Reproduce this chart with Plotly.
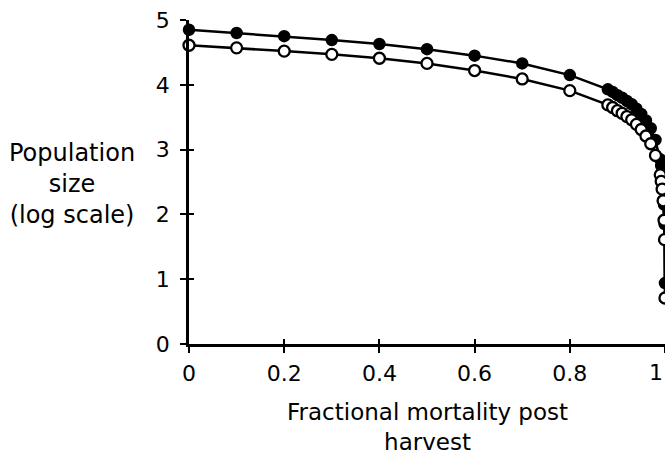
import plotly.graph_objects as go

# Data
mortality = [0, 0.1, 0.2, 0.3, 0.4, 0.5, 0.6, 0.7, 0.8,
             0.88, 0.89, 0.90, 0.91, 0.92, 0.93, 0.94, 0.95, 0.96, 0.97, 0.98, 0.99,
             0.992, 0.994, 0.996, 0.998, 0.999, 0.9999]
pop_filled = [4.85, 4.80, 4.75, 4.69, 4.63, 4.55, 4.45, 4.33, 4.15,
              3.93, 3.89, 3.84, 3.80, 3.75, 3.70, 3.63, 3.55, 3.45, 3.33, 3.15, 2.85,
              2.75, 2.63, 2.45, 2.15, 1.85, 0.94]
pop_open = [4.61, 4.57, 4.52, 4.47, 4.41, 4.33, 4.22, 4.09, 3.91,
            3.69, 3.65, 3.60, 3.56, 3.51, 3.46, 3.39, 3.31, 3.21, 3.09, 2.91, 2.61,
            2.51, 2.39, 2.21, 1.91, 1.61, 0.71]
x_ticks = [0, 0.2, 0.4, 0.6, 0.8, 1]
x_tick_labels = ["0", "0.2", "0.4", "0.6", "0.8", "1"]
y_ticks = [0, 1, 2, 3, 4, 5]
y_tick_labels = ["0", "1", "2", "3", "4", "5"]

FONT = "DejaVu Sans"
TICK_SIZE = 22

fig = go.Figure()
fig.add_trace(go.Scatter(
    x=mortality, y=pop_filled, mode="lines+markers",
    line=dict(color="black", width=2.5),
    marker=dict(symbol="circle", size=11, color="black",
                line=dict(color="black", width=1.5)),
    cliponaxis=False, showlegend=False))
fig.add_trace(go.Scatter(
    x=mortality, y=pop_open, mode="lines+markers",
    line=dict(color="black", width=2.5),
    marker=dict(symbol="circle", size=11, color="white",
                line=dict(color="black", width=2.3)),
    cliponaxis=False, showlegend=False))

axis_common = dict(showgrid=False, zeroline=False, showline=True,
                   linecolor="black", linewidth=2.5,
                   ticks="outside", ticklen=6, tickwidth=2, tickcolor="black",
                   tickfont=dict(family=FONT, size=TICK_SIZE, color="black"))

# the last x tick label sits at the window edge; draw it as text kept inside the page
x_label_shown = x_tick_labels[:-1] + [""]

fig.update_layout(
    width=665, height=455,
    margin=dict(l=189, r=0, t=20, b=111),
    paper_bgcolor="white", plot_bgcolor="white",
    xaxis=dict(range=[0, 1], tickvals=x_ticks, ticktext=x_label_shown,
               ticklabelstandoff=2, **axis_common),
    yaxis=dict(range=[0, 5], tickvals=y_ticks, ticktext=y_tick_labels,
               ticklabelstandoff=6, **axis_common),
    xaxis2=dict(range=[0, 1], overlaying="x", anchor="y", side="bottom",
                tickvals=x_ticks, showticklabels=False, showgrid=False,
                zeroline=False, showline=False, ticks="inside", ticklen=5,
                tickwidth=2, tickcolor="black"),
    yaxis2=dict(range=[0, 5], overlaying="y", anchor="x", side="left",
                tickvals=y_ticks, showticklabels=False, showgrid=False,
                zeroline=False, showline=False, ticks="inside", ticklen=5,
                tickwidth=2, tickcolor="black"),
    font=dict(family=FONT, color="black"),
)

fig.add_trace(go.Scatter(x=[None], y=[None], xaxis="x2", yaxis="y2",
                         showlegend=False, hoverinfo="skip"))

fig.add_annotation(text=x_tick_labels[-1], xref="x", yref="paper",
                   x=x_ticks[-1], y=0, yshift=-28, xanchor="right",
                   yanchor="middle", showarrow=False,
                   font=dict(family=FONT, size=TICK_SIZE, color="black"))

fig.add_annotation(text="Fractional mortality post<br>harvest",
                   xref="paper", yref="paper", x=0.5, y=-0.165,
                   xanchor="center", yanchor="top", showarrow=False,
                   font=dict(family=FONT, size=23, color="black"))
fig.add_annotation(text="Population<br>size<br>(log scale)",
                   xref="paper", yref="paper", x=-0.245, y=0.494,
                   xanchor="center", yanchor="middle", showarrow=False,
                   font=dict(family=FONT, size=24, color="black"))

fig.write_html("out.html")
